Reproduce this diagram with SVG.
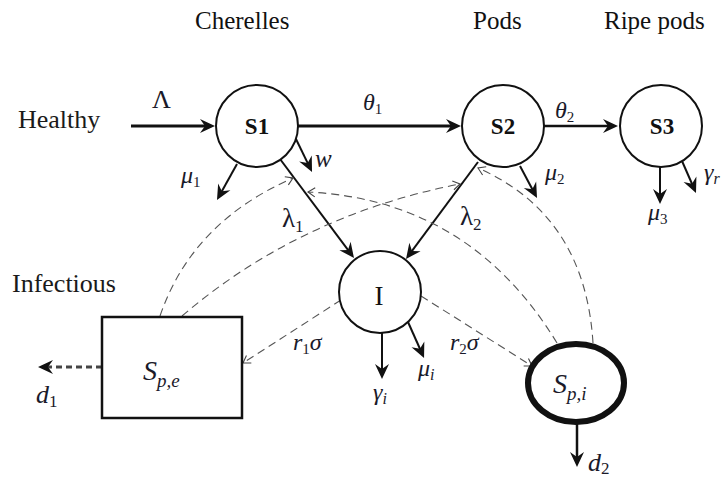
<svg xmlns="http://www.w3.org/2000/svg" width="724" height="479" viewBox="0 0 724 479">
  <style>
    .node { fill: #fff; stroke: #111; stroke-width: 2; }
    .flow { fill: none; stroke: #111; stroke-width: 2; marker-end: url(#stealth); }
    .thick { stroke-width: 3; }
    .infect { fill: none; stroke: #555; stroke-width: 1.1; stroke-dasharray: 8 5; marker-end: url(#vtip); }
    .title { font-family: "Liberation Serif", "DejaVu Serif", serif; font-size: 26px; fill: #1a1a1a; }
    .head { font-family: "Liberation Serif", "DejaVu Serif", serif; font-size: 25px; fill: #111; }
    .math { font-family: "Liberation Serif", "DejaVu Serif", serif; font-style: italic; font-size: 24px; fill: #1a1a2a; }
    .up { font-style: normal; }
    .sub { font-size: 15px; font-style: normal; }
    .isub { font-size: 16px; font-style: italic; }
    .bold { font-family: "Liberation Serif", "DejaVu Serif", serif; font-weight: bold; font-size: 23px; fill: #111; }
  </style>
  <defs>
    <marker id="stealth" markerUnits="userSpaceOnUse" markerWidth="18" markerHeight="16" viewBox="-17 -8 18 16" refX="-6" refY="0" orient="auto">
      <path d="M0,0 L-15,-7 L-10,0 L-15,7 Z" fill="#111"/>
    </marker>
    <marker id="vtip" markerUnits="userSpaceOnUse" markerWidth="12" markerHeight="12" viewBox="-9 -6 10 12" refX="0" refY="0" orient="auto">
      <path d="M-7,-4.5 L0,0 L-7,4.5" fill="none" stroke="#444" stroke-width="1.1"/>
    </marker>
  </defs>

  <rect width="724" height="479" fill="#fff"/>

  <!-- column headings and row labels -->
  <text class="head" x="195" y="29">Cherelles</text>
  <text class="head" x="473" y="29">Pods</text>
  <text class="head" x="604" y="29">Ripe pods</text>
  <text class="title" x="18" y="128">Healthy</text>
  <text class="title" x="12" y="292">Infectious</text>

  <!-- transitions and infection pathways -->
  <g id="connectors">
    <path class="flow thick" d="M131,126 L209,126"/>
    <path class="flow thick" d="M298,126 L455,126"/>
    <path class="flow" style="stroke-width:2.5" d="M544,126 L612,126"/>
    <path class="flow" d="M295,137 L309.4,166.6"/>
    <path class="flow" d="M237,164 L219.9,194.8"/>
    <path class="flow" d="M520,166 L534.2,192.7"/>
    <path class="flow" d="M660,167 L660,198"/>
    <path class="flow" d="M682,161 L693.6,187.5"/>
    <path class="flow" d="M280,159 L350.4,253.2"/>
    <path class="flow" d="M478,162 L409.6,254.2"/>
    <path class="flow" d="M382,333 L382,373"/>
    <path class="flow" d="M408,322 L421.6,352.5"/>
    <path class="flow" style="stroke-width:2.5" d="M577,424 L577,461"/>
    <path class="flow" style="stroke:#444;stroke-width:3;stroke-dasharray:6 4" d="M102,367 L44,367"/>

    <!-- force of infection (dashed) -->
    <path class="infect" d="M160,316 Q192,222 293,178"/>
    <path class="infect" d="M182,316 Q300,215 460,184"/>
    <path class="infect" d="M557,343 Q470,200 308,192"/>
    <path class="infect" d="M593,343 Q585,215 478,168"/>
    <path class="infect" d="M341,300 L243,363"/>
    <path class="infect" d="M421,296 L532,366"/>
  </g>

  <!-- compartments -->
  <g id="node-s1">
    <circle class="node" cx="257" cy="126" r="41"/>
    <text class="bold" x="257" y="134" text-anchor="middle">S1</text>
  </g>
  <g id="node-s2">
    <circle class="node" cx="503" cy="126" r="41"/>
    <text class="bold" x="503" y="134" text-anchor="middle">S2</text>
  </g>
  <g id="node-s3">
    <circle class="node" cx="661" cy="126" r="41"/>
    <text class="bold" x="662" y="134" text-anchor="middle">S3</text>
  </g>
  <g id="node-i">
    <circle class="node" cx="380" cy="292" r="41"/>
    <text class="head" x="379" y="305" text-anchor="middle" style="font-size:27px">I</text>
  </g>
  <g id="node-spe">
    <rect class="node" x="102" y="317" width="140" height="101" style="stroke-width:2.5"/>
    <text class="math" x="143" y="380" style="font-size:28px">S<tspan class="isub" dy="7" style="font-size:19px">p,e</tspan></text>
  </g>
  <g id="node-spi">
    <ellipse class="node" cx="576" cy="383" rx="48" ry="39" style="stroke-width:6"/>
    <text class="math" x="553" y="393" style="font-size:28px">S<tspan class="isub" dy="7" style="font-size:19px">p,i</tspan></text>
  </g>

  <!-- rate labels -->
  <g id="rates">
    <text class="math up" x="152" y="108" style="font-size:26px">Λ</text>
    <text class="math" x="363" y="110">θ<tspan class="sub" dy="4">1</tspan></text>
    <text class="math" x="555" y="118">θ<tspan class="sub" dy="4">2</tspan></text>
    <text class="math" x="315" y="167" style="font-size:25px">w</text>
    <text class="math" x="181" y="183">μ<tspan class="sub" dy="4">1</tspan></text>
    <text class="math up" x="282" y="227" style="font-size:27px">λ<tspan class="sub" dy="5" style="font-size:17px">1</tspan></text>
    <text class="math up" x="460" y="225" style="font-size:27px">λ<tspan class="sub" dy="5" style="font-size:17px">2</tspan></text>
    <text class="math" x="545" y="180">μ<tspan class="sub" dy="4">2</tspan></text>
    <text class="math" x="648" y="220">μ<tspan class="sub" dy="4">3</tspan></text>
    <text class="math" x="704" y="180">γ<tspan class="isub" dy="4">r</tspan></text>
    <text class="math" x="373" y="400">γ<tspan class="isub" dy="4">i</tspan></text>
    <text class="math" x="418" y="376">μ<tspan class="isub" dy="4">i</tspan></text>
    <text class="math" x="293" y="350">r<tspan class="sub" dy="4">1</tspan><tspan dy="-4">σ</tspan></text>
    <text class="math" x="450" y="350">r<tspan class="sub" dy="4">2</tspan><tspan dy="-4">σ</tspan></text>
    <text class="math" x="36" y="403" style="font-size:26px">d<tspan class="sub" dy="4" style="font-size:17px">1</tspan></text>
    <text class="math" x="588" y="471" style="font-size:26px">d<tspan class="sub" dy="3" style="font-size:17px">2</tspan></text>
  </g>
</svg>
